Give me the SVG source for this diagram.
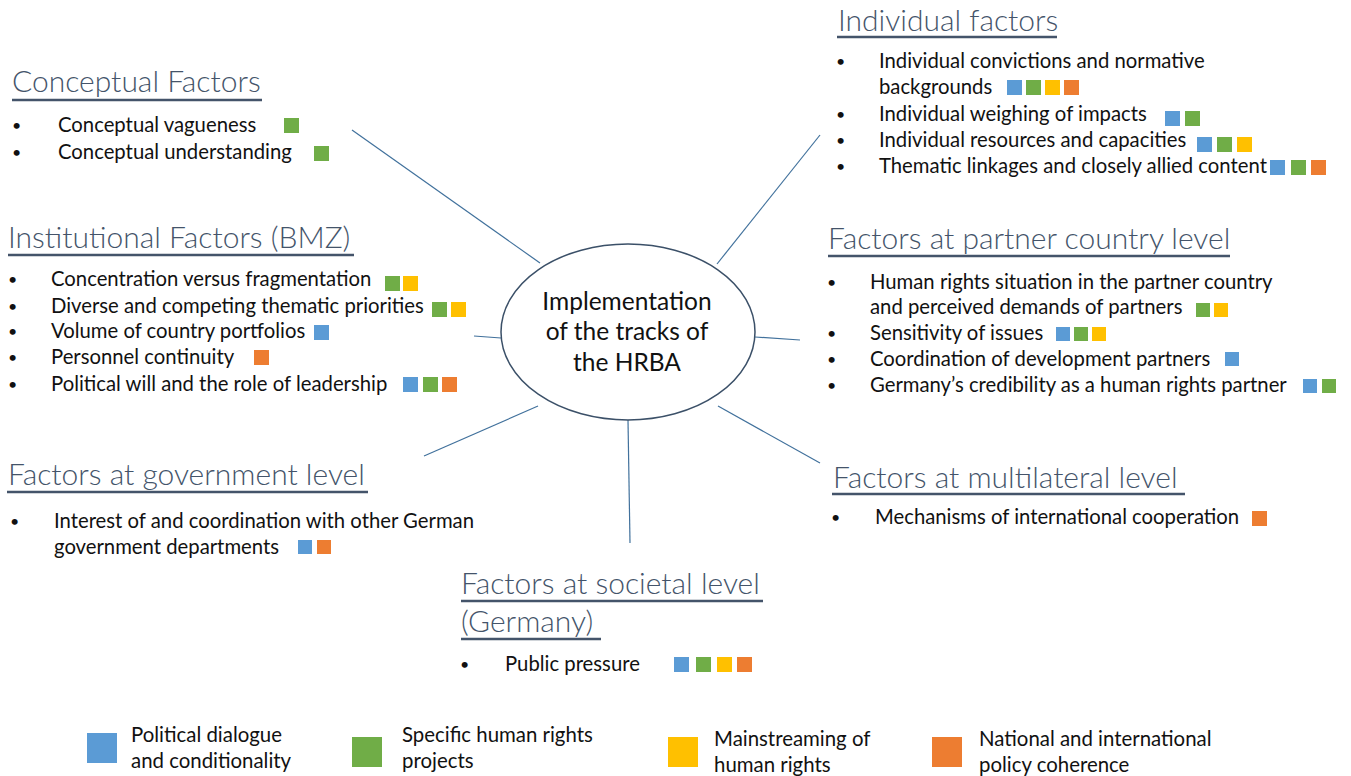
<svg xmlns="http://www.w3.org/2000/svg" width="1351" height="776" viewBox="0 0 1351 776">
<style>
.t{font-family:Lato,"Liberation Sans",sans-serif;font-size:30px;fill:#44546A;font-weight:300}
.u{stroke:#44546A;stroke-width:2.5}
.i{font-family:Lato,"Liberation Sans",sans-serif;font-size:20.3px;fill:#111}
.d{font-family:Lato,"Liberation Sans",sans-serif;font-size:16px;fill:#111}
.c{font-family:Lato,"Liberation Sans",sans-serif;font-size:24.5px;fill:#111;text-anchor:middle}
.l{font-family:Lato,"Liberation Sans",sans-serif;font-size:20.4px;fill:#111}
.b{fill:#5B9BD5}.g{fill:#70AD47}.y{fill:#FFC000}.o{fill:#ED7D31}
.cn{stroke:#41719C;stroke-width:1.2;fill:none}
</style>
<rect width="1351" height="776" fill="#fff"/>
<g id="connectors">
<line class="cn" x1="352" y1="130" x2="540" y2="263"/>
<line class="cn" x1="820" y1="135" x2="717" y2="264"/>
<line class="cn" x1="474" y1="336" x2="501" y2="338"/>
<line class="cn" x1="755" y1="337" x2="800" y2="340"/>
<line class="cn" x1="424" y1="456" x2="538" y2="406"/>
<line class="cn" x1="628" y1="420" x2="630" y2="543"/>
<line class="cn" x1="718" y1="406" x2="820" y2="463"/>
</g>
<g id="center">
<ellipse cx="628" cy="332" rx="127" ry="88" fill="#fff" stroke="#3B5068" stroke-width="1.5"/>
<text class="c" x="627" y="310">Implementation</text>
<text class="c" x="627" y="340">of the tracks of</text>
<text class="c" x="627" y="371">the HRBA</text>
</g>
<g id="conceptual">
<text class="t" x="12" y="92">Conceptual Factors</text>
<line class="u" x1="12" y1="100" x2="262" y2="100"/>
<text class="d" x="12" y="131">•</text><text class="i" x="58" y="132">Conceptual vagueness</text>
<rect class="g" x="284" y="118" width="15" height="15"/>
<text class="d" x="12" y="158">•</text><text class="i" x="58" y="159">Conceptual understanding</text>
<rect class="g" x="314" y="146" width="15" height="15"/>
</g>
<g id="individual">
<text class="t" x="838" y="31">Individual factors</text>
<line class="u" x1="837" y1="37" x2="1057" y2="37"/>
<text class="d" x="836" y="67">•</text><text class="i" x="879" y="68">Individual convictions and normative</text>
<text class="i" x="879" y="94">backgrounds</text>
<rect class="b" x="1007" y="80" width="15" height="15"/><rect class="g" x="1026" y="80" width="15" height="15"/><rect class="y" x="1045" y="80" width="15" height="15"/><rect class="o" x="1064" y="80" width="15" height="15"/>
<text class="d" x="836" y="120">•</text><text class="i" x="879" y="121">Individual weighing of impacts</text>
<rect class="b" x="1165" y="111" width="15" height="15"/><rect class="g" x="1185" y="111" width="15" height="15"/>
<text class="d" x="836" y="146">•</text><text class="i" x="879" y="147">Individual resources and capacities</text>
<rect class="b" x="1197" y="137" width="15" height="15"/><rect class="g" x="1217" y="137" width="15" height="15"/><rect class="y" x="1237" y="137" width="15" height="15"/>
<text class="d" x="836" y="172">•</text><text class="i" x="879" y="173">Thematic linkages and closely allied content</text>
<rect class="b" x="1270" y="160" width="15" height="15"/><rect class="g" x="1291" y="160" width="15" height="15"/><rect class="o" x="1311" y="160" width="15" height="15"/>
</g>
<g id="institutional">
<text class="t" x="8" y="248">Institutional Factors (BMZ)</text>
<line class="u" x1="8" y1="255" x2="354" y2="255"/>
<text class="d" x="8" y="285">•</text><text class="i" x="51" y="286">Concentration versus fragmentation</text>
<rect class="g" x="385" y="276" width="15" height="15"/><rect class="y" x="403" y="276" width="15" height="15"/>
<text class="d" x="8" y="312">•</text><text class="i" x="51" y="313">Diverse and competing thematic priorities</text>
<rect class="g" x="432" y="302" width="15" height="15"/><rect class="y" x="451" y="302" width="15" height="15"/>
<text class="d" x="8" y="337">•</text><text class="i" x="51" y="338">Volume of country portfolios</text>
<rect class="b" x="314" y="325" width="15" height="15"/>
<text class="d" x="8" y="363">•</text><text class="i" x="51" y="364">Personnel continuity</text>
<rect class="o" x="254" y="350" width="15" height="15"/>
<text class="d" x="8" y="390">•</text><text class="i" x="51" y="391">Political will and the role of leadership</text>
<rect class="b" x="403" y="377" width="15" height="15"/><rect class="g" x="423" y="377" width="15" height="15"/><rect class="o" x="442" y="377" width="15" height="15"/>
</g>
<g id="partner">
<text class="t" x="828" y="249">Factors at partner country level</text>
<line class="u" x1="828" y1="256" x2="1230" y2="256"/>
<text class="d" x="827" y="288">•</text><text class="i" x="870" y="289">Human rights situation in the partner country</text>
<text class="i" x="870" y="314">and perceived demands of partners</text>
<rect class="g" x="1196" y="303" width="14" height="14"/><rect class="y" x="1214" y="303" width="14" height="14"/>
<text class="d" x="827" y="339">•</text><text class="i" x="870" y="340">Sensitivity of issues</text>
<rect class="b" x="1056" y="327" width="14" height="14"/><rect class="g" x="1074" y="327" width="14" height="14"/><rect class="y" x="1092" y="327" width="14" height="14"/>
<text class="d" x="827" y="365">•</text><text class="i" x="870" y="366">Coordination of development partners</text>
<rect class="b" x="1225" y="352" width="14" height="14"/>
<text class="d" x="827" y="391">•</text><text class="i" x="870" y="392">Germany’s credibility as a human rights partner</text>
<rect class="b" x="1303" y="379" width="14" height="14"/><rect class="g" x="1322" y="379" width="14" height="14"/>
</g>
<g id="government">
<text class="t" x="8" y="485">Factors at government level</text>
<line class="u" x1="7" y1="492" x2="368" y2="492"/>
<text class="d" x="10" y="527">•</text><text class="i" x="54" y="528">Interest of and coordination with other German</text>
<text class="i" x="54" y="554">government departments</text>
<rect class="b" x="298" y="540" width="14" height="14"/><rect class="o" x="317" y="540" width="14" height="14"/>
</g>
<g id="multilateral">
<text class="t" x="833" y="488">Factors at multilateral level</text>
<line class="u" x1="832" y1="494" x2="1185" y2="494"/>
<text class="d" x="831" y="523">•</text><text class="i" x="875" y="524">Mechanisms of international cooperation</text>
<rect class="o" x="1252" y="511" width="15" height="15"/>
</g>
<g id="societal">
<text class="t" x="461" y="594">Factors at societal level</text>
<line class="u" x1="461" y1="601" x2="763" y2="601"/>
<text class="t" x="461" y="632">(Germany)</text>
<line class="u" x1="461" y1="639" x2="601" y2="639"/>
<text class="d" x="460" y="670">•</text><text class="i" x="505" y="671">Public pressure</text>
<rect class="b" x="674" y="657" width="15" height="15"/><rect class="g" x="696" y="657" width="15" height="15"/><rect class="y" x="717" y="657" width="15" height="15"/><rect class="o" x="737" y="657" width="15" height="15"/>
</g>
<g id="legend">
<rect class="b" x="87" y="733" width="30" height="30"/>
<text class="l" x="131" y="742">Political dialogue</text><text class="l" x="131" y="768">and conditionality</text>
<rect class="g" x="352" y="737" width="30" height="30"/>
<text class="l" x="402" y="742">Specific human rights</text><text class="l" x="402" y="768">projects</text>
<rect class="y" x="668" y="737" width="30" height="30"/>
<text class="l" x="714" y="746">Mainstreaming of</text><text class="l" x="714" y="772">human rights</text>
<rect class="o" x="932" y="737" width="30" height="30"/>
<text class="l" x="979" y="746">National and international</text><text class="l" x="979" y="772">policy coherence</text>
</g>
</svg>
